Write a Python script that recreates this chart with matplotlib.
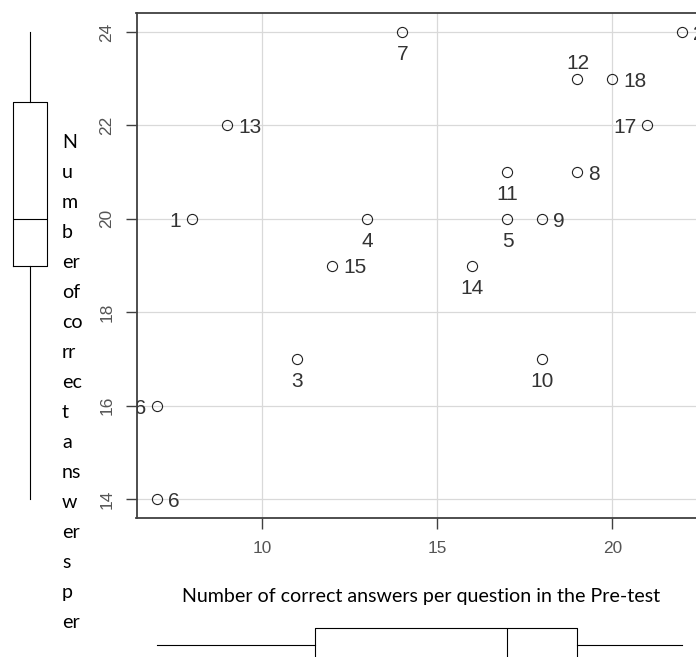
import matplotlib
matplotlib.use("Agg")
import matplotlib.pyplot as plt
from matplotlib.transforms import Bbox

plt.rcParams["font.family"] = ["Liberation Sans", "DejaVu Sans"]

# ---------------- data ----------------
question_ids = [str(i) for i in range(1, 19)]
pre_test = [8, 22, 11, 13, 17, 7, 14, 19, 18, 18, 17, 19, 9, 16, 12, 7, 21, 20]
post_test = [20, 24, 17, 20, 20, 14, 24, 21, 20, 17, 21, 23, 22, 19, 19, 16, 22, 23]
label_side = ["left", "right", "below", "below", "below", "right", "below", "right",
              "right", "below", "below", "above", "right", "below", "right", "left",
              "left", "right"]

x_ticks = [10, 15, 20]
y_ticks = [14, 16, 18, 20, 22, 24]

# boxplot summaries
x_box = dict(whislo=7, q1=11.5, med=17, q3=19, whishi=22)
y_box = dict(whislo=14, q1=19, med=20, q3=22.5, whishi=24)

x_label = "Number of correct answers per question in the Pre-test"
y_label_pieces = ["N", "u", "m", "b", "er", "of", "co", "rr", "ec", "t", "a",
                  "ns", "w", "er", "s", "p", "er"]

# ---------------- figure ----------------
W, H = 696, 657
fig = plt.figure(figsize=(W / 100, H / 100), dpi=100)

def px_rect(left, top, width, height):
    return [left / W, (H - top - height) / H, width / W, height / H]

ax_left, ax_top, ax_w, ax_h = 136.5, 13.3, 567.0, 504.4
ax = fig.add_axes(px_rect(ax_left, ax_top, ax_w, ax_h))
xlim = (6.4, 22.6)
ylim = (13.6, 24.4)
ax.set_xlim(*xlim)
ax.set_ylim(*ylim)

spine_col = "#404040"
for s in ["left", "bottom", "top", "right"]:
    ax.spines[s].set_color(spine_col)
    ax.spines[s].set_linewidth(1.3)

ax.set_xticks(x_ticks)
ax.set_yticks(y_ticks)
ax.grid(True, color="#d9d9d9", linewidth=0.9)
ax.set_axisbelow(True)
ax.tick_params(axis="both", direction="out", length=8, width=1.0,
               colors=spine_col, labelcolor="#555555", labelsize=12.4)
ax.tick_params(axis="x", pad=9)
ax.tick_params(axis="y", pad=8, labelrotation=90)
for lab in ax.get_yticklabels():
    lab.set_va("center")

ax.plot(pre_test, post_test, linestyle="none", marker="o", markersize=7.3,
        markerfacecolor="none", markeredgecolor="#222222", markeredgewidth=0.8,
        zorder=3)

k = 72 / 100  # px -> points
offsets = {
    "below": ((0, -28.3 * k), "center"),
    "above": ((0, 10.0 * k), "center"),
    "right": ((10.5 * k, -8.0 * k), "left"),
    "left": ((-11.0 * k, -8.0 * k), "right"),
}
for qid, xv, yv, side in zip(question_ids, pre_test, post_test, label_side):
    off, ha = offsets[side]
    ax.annotate(qid, (xv, yv), xytext=off, textcoords="offset points",
                ha=ha, va="baseline", fontsize=15,
                color="#333333", clip_on=True, annotation_clip=False, zorder=4)

# ---------------- marginal boxplots ----------------
box_line = dict(color="black", linewidth=0.8)

axl = fig.add_axes(px_rect(0, ax_top, 60, ax_h))
axl.set_xlim(0, 60)
axl.set_ylim(*ylim)
axl.bxp([dict(y_box, fliers=[])], positions=[30], widths=[34], vert=True,
        showcaps=False, showfliers=False,
        boxprops=box_line, whiskerprops=box_line,
        medianprops=box_line)
axl.axis("off")

axb = fig.add_axes(px_rect(ax_left, 610, ax_w, 70))
axb.set_xlim(*xlim)
axb.set_ylim(0, 70)
axb.bxp([dict(x_box, fliers=[])], positions=[35], widths=[34], vert=False,
        showcaps=False, showfliers=False,
        boxprops=box_line, whiskerprops=box_line,
        medianprops=box_line)
axb.axis("off")

# ---------------- axis titles ----------------
label_family = ["Lato", "DejaVu Sans"]
target_w = 478.0
t = fig.text(420.8 / W, (H - 601.7) / H, x_label, ha="center", va="baseline",
             family=label_family, fontsize=13, color="black")
fig.canvas.draw()
r = fig.canvas.get_renderer()
w_now = t.get_window_extent(r).width
fs = 13 * target_w / w_now
t.set_fontsize(fs)

clip = Bbox.from_extents(0, H - 628.0, W, H)
for i, piece in enumerate(y_label_pieces):
    base = 148.3 + 30.0 * i
    tt = fig.text(62 / W, (H - base) / H, piece, ha="left", va="baseline",
                  family=label_family, fontsize=fs, color="black")
    tt.set_clip_box(clip)
    tt.set_clip_on(True)

fig.savefig("out.png", dpi=100)
